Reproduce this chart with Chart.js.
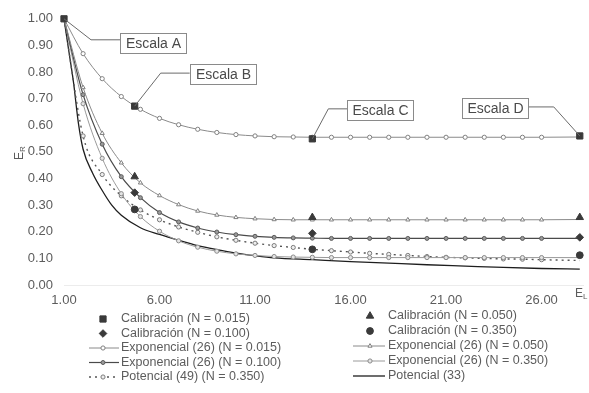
<!DOCTYPE html>
<html>
<head>
<meta charset="utf-8">
<script src="https://cdn.jsdelivr.net/npm/chart.js@4.4.1/dist/chart.umd.min.js"></script>
<style>
html, body { margin: 0; padding: 0; background: #fff; }
</style>
</head>
<body>
<canvas id="chart" width="589" height="393"></canvas>
<script>
// tick labels
var xTicks = [1, 6, 11, 16, 21, 26];
var yTicks = [0, 0.1, 0.2, 0.3, 0.4, 0.5, 0.6, 0.7, 0.8, 0.9, 1.0];

// calibration points
var calX015 = [1, 4.7, 14, 28];
var cal015 = [1.000, 0.672, 0.549, 0.560];
var calX = [4.7, 14, 28];
var cal050 = [0.407, 0.254, 0.254];
var cal100 = [0.347, 0.194, 0.179];
var cal350 = [0.284, 0.134, 0.112];

// fitted curves (markers at 1..26, line runs to 28)
var expX = [1, 2, 3, 4, 5, 6, 7, 8, 9, 10, 11, 12, 13, 14, 15, 16, 17, 18, 19, 20, 21, 22, 23, 24, 25, 26, 28];
var exp015 = [1.000, 0.869, 0.775, 0.708, 0.660, 0.626, 0.602, 0.585, 0.573, 0.565, 0.560, 0.557, 0.556, 0.555,
              0.555, 0.555, 0.555, 0.555, 0.555, 0.555, 0.555, 0.555, 0.555, 0.555, 0.555, 0.555, 0.556];
var exp050 = [1.000, 0.742, 0.570, 0.459, 0.384, 0.336, 0.302, 0.278, 0.263, 0.254, 0.249, 0.246, 0.245, 0.245,
              0.245, 0.245, 0.245, 0.245, 0.245, 0.245, 0.245, 0.245, 0.245, 0.245, 0.245, 0.245, 0.246];
var exp100 = [1.000, 0.715, 0.529, 0.407, 0.328, 0.272, 0.237, 0.214, 0.199, 0.189, 0.183, 0.179, 0.177, 0.176,
              0.175, 0.175, 0.175, 0.175, 0.175, 0.175, 0.175, 0.175, 0.175, 0.175, 0.175, 0.175, 0.175];
var exp350 = [1.000, 0.681, 0.476, 0.343, 0.257, 0.202, 0.166, 0.142, 0.127, 0.117, 0.111, 0.107, 0.105, 0.104,
              0.103, 0.103, 0.103, 0.103, 0.103, 0.103, 0.103, 0.103, 0.103, 0.103, 0.103, 0.103, 0.103];
var pot49 = [1.000, 0.560, 0.415, 0.335, 0.282, 0.245, 0.218, 0.198, 0.181, 0.168, 0.157, 0.148, 0.141, 0.134,
             0.129, 0.124, 0.119, 0.115, 0.111, 0.107, 0.104, 0.102, 0.100, 0.098, 0.097, 0.095, 0.092];
var pot33X = [1, 1.25, 1.5, 1.75, 2, 2.5, 3, 3.5, 4, 5, 6, 7, 8, 9, 10, 11, 12, 14, 16, 18, 20, 22, 24, 26, 28];
var pot33 = [1.000, 0.880, 0.760, 0.610, 0.510, 0.420, 0.355, 0.300, 0.262, 0.215, 0.190, 0.168, 0.148, 0.133,
             0.120, 0.110, 0.102, 0.095, 0.088, 0.082, 0.076, 0.071, 0.066, 0.062, 0.060];

var escalaLabels = ['Escala A', 'Escala B', 'Escala C', 'Escala D'];

function pts(xs, ys) {
    return xs.map(function (x, i) { return { x: x, y: ys[i] }; });
}
function markerUpTo26(r) {
    return function (c) { return c.raw && c.raw.x > 26 ? 0 : r; };
}

var FONT = '"Liberation Sans", Arial, sans-serif';
var TEXT = '#5c5c5c';
var calColor = '#3a3a3a';

var datasets = [
    { label: 'Calibración (N = 0.015)', data: pts(calX015, cal015), showLine: false, pointStyle: 'rect',
      pointRadius: 4.4, backgroundColor: calColor, borderColor: calColor, borderWidth: 1, order: 0 },
    { label: 'Calibración (N = 0.050)', data: pts(calX, cal050), showLine: false, pointStyle: 'triangle',
      pointRadius: 4.3, backgroundColor: calColor, borderColor: calColor, borderWidth: 1, order: 0 },
    { label: 'Calibración (N = 0.100)', data: pts(calX, cal100), showLine: false, pointStyle: 'rectRot',
      pointRadius: 3.8, backgroundColor: calColor, borderColor: calColor, borderWidth: 1, order: 0 },
    { label: 'Calibración (N = 0.350)', data: pts(calX, cal350), showLine: false, pointStyle: 'circle',
      pointRadius: 3.4, backgroundColor: calColor, borderColor: calColor, borderWidth: 1, order: 0 },
    { label: 'Exponencial (26) (N = 0.015)', data: pts(expX, exp015), borderColor: '#8a8a8a', borderWidth: 1,
      pointStyle: 'circle', pointRadius: markerUpTo26(2.1), pointBackgroundColor: '#fff',
      pointBorderColor: '#808080', pointBorderWidth: 1, order: 2 },
    { label: 'Exponencial (26) (N = 0.050)', data: pts(expX, exp050), borderColor: '#8a8a8a', borderWidth: 1,
      pointStyle: 'triangle', pointRadius: markerUpTo26(2.4), pointBackgroundColor: '#fff',
      pointBorderColor: '#808080', pointBorderWidth: 1, order: 2 },
    { label: 'Exponencial (26) (N = 0.100)', data: pts(expX, exp100), borderColor: '#4a4a4a', borderWidth: 1.2,
      pointStyle: 'circle', pointRadius: markerUpTo26(2.0), pointBackgroundColor: '#9a9a9a',
      pointBorderColor: '#5a5a5a', pointBorderWidth: 1, order: 2 },
    { label: 'Exponencial (26) (N = 0.350)', data: pts(expX, exp350), borderColor: '#9a9a9a', borderWidth: 1,
      pointStyle: 'circle', pointRadius: markerUpTo26(2.1), pointBackgroundColor: '#e4e4e4',
      pointBorderColor: '#8a8a8a', pointBorderWidth: 1, order: 2 },
    { label: 'Potencial (49) (N = 0.350)', data: pts(expX, pot49), borderColor: '#555', borderWidth: 1.4,
      borderDash: [2, 4], pointStyle: 'circle', pointRadius: markerUpTo26(2.1), pointBackgroundColor: '#eee',
      pointBorderColor: '#7a7a7a', pointBorderWidth: 1, order: 3 },
    { label: 'Potencial (33)', data: pts(pot33X, pot33), borderColor: '#1e1e1e', borderWidth: 1.3,
      pointRadius: 0, order: 4 }
];
datasets.forEach(function (d) {
    d.clip = false;
    d.cubicInterpolationMode = 'monotone';
});

// legend layout: [dataset index, column, row]
var legendItems = [[0, 0, 0], [2, 0, 1], [4, 0, 2], [6, 0, 3], [8, 0, 4],
                   [1, 1, 0], [3, 1, 1], [5, 1, 2], [7, 1, 3], [9, 1, 4]];
var legendCols = [
    { mark: 103, l0: 89, l1: 119, text: 121, rows: [319, 333.5, 348, 362.5, 377] },
    { mark: 370, l0: 353, l1: 385, text: 388, rows: [316, 331, 346, 361, 376] }
];

var extras = {
    id: 'extras',
    afterDraw: function (chart) {
        var ctx = chart.ctx;
        var xs = chart.scales.x, ys = chart.scales.y;
        ctx.save();

        // Escala callouts on the N = 0.015 calibration points
        var callouts = [
            { elbow: [27, 21], end: [56, 21], box: [56, 14] },
            { elbow: [26, -33], end: [55, -33], box: [55, -42] },
            { elbow: [16, -30], end: [35, -30], box: [35, -39] },
            { elbow: [-26, -29], end: [-52, -29], box: [-118, -38] }
        ];
        ctx.font = '14px ' + FONT;
        ctx.textAlign = 'center';
        ctx.textBaseline = 'middle';
        callouts.forEach(function (c, i) {
            var ax = xs.getPixelForValue(calX015[i]);
            var ay = ys.getPixelForValue(cal015[i]);
            ctx.strokeStyle = '#6a6a6a';
            ctx.lineWidth = 1;
            ctx.beginPath();
            ctx.moveTo(ax, ay);
            ctx.lineTo(ax + c.elbow[0], ay + c.elbow[1]);
            ctx.lineTo(ax + c.end[0], ay + c.end[1]);
            ctx.stroke();
            var bx = Math.round(ax + c.box[0]) + 0.5, by = Math.round(ay + c.box[1]) + 0.5;
            ctx.fillStyle = '#fff';
            ctx.fillRect(bx, by, 66, 20);
            ctx.strokeStyle = '#8a8a8a';
            ctx.strokeRect(bx, by, 66, 20);
            ctx.fillStyle = '#4a4a4a';
            ctx.fillText(escalaLabels[i], bx + 33, by + 10.5);
        });

        // axis titles with subscripts
        ctx.fillStyle = TEXT;
        ctx.textAlign = 'left';
        ctx.textBaseline = 'alphabetic';
        ctx.save();
        ctx.translate(23, 160);
        ctx.rotate(-Math.PI / 2);
        ctx.font = '12px ' + FONT;
        ctx.fillText('E', 0, 0);
        ctx.font = '8px ' + FONT;
        ctx.fillText('R', 8, 2);
        ctx.restore();
        ctx.font = '12px ' + FONT;
        ctx.fillText('E', 575, 297);
        ctx.font = '8px ' + FONT;
        ctx.fillText('L', 583, 299);

        // two-column legend
        legendItems.forEach(function (it) {
            var d = chart.data.datasets[it[0]];
            var col = legendCols[it[1]];
            var y = col.rows[it[2]];
            if (d.showLine !== false) {
                ctx.strokeStyle = d.borderColor;
                ctx.lineWidth = d.borderWidth;
                ctx.setLineDash(d.borderDash || []);
                ctx.beginPath();
                ctx.moveTo(col.l0, y);
                ctx.lineTo(col.l1, y);
                ctx.stroke();
                ctx.setLineDash([]);
            }
            var r = typeof d.pointRadius === 'function' ? d.pointRadius({ raw: { x: 1 } }) : d.pointRadius;
            if (r > 0) {
                ctx.fillStyle = d.pointBackgroundColor || d.backgroundColor;
                ctx.strokeStyle = d.pointBorderColor || d.borderColor;
                ctx.lineWidth = d.pointBorderWidth || d.borderWidth || 1;
                Chart.helpers.drawPoint(ctx, { pointStyle: d.pointStyle, radius: r, rotation: 0,
                    borderWidth: ctx.lineWidth }, col.mark, y);
            }
            ctx.fillStyle = TEXT;
            ctx.font = '12.5px ' + FONT;
            ctx.textBaseline = 'middle';
            ctx.fillText(d.label, col.text, y);
        });
        ctx.restore();
    }
};

var ctx = document.getElementById('chart').getContext('2d');
var chart = new Chart(ctx, {
    type: 'line',
    data: { datasets: datasets },
    options: {
        responsive: false,
        animation: false,
        layout: { padding: { top: 17, right: 4, left: 0, bottom: 0 } },
        plugins: { legend: { display: false }, tooltip: { enabled: false } },
        scales: {
            x: {
                type: 'linear', min: 1, max: 28.2,
                grid: { display: false, drawTicks: false },
                border: { display: true, color: '#ececec' },
                afterBuildTicks: function (s) { s.ticks = xTicks.map(function (v) { return { value: v }; }); },
                afterFit: function (s) { s.height = 108; },
                ticks: { padding: 8, color: TEXT, font: { size: 13, family: FONT }, maxRotation: 0,
                         autoSkip: false, callback: function (v) { return Number(v).toFixed(2); } }
            },
            y: {
                min: 0, max: 1,
                grid: { display: false, drawTicks: false },
                border: { display: false },
                afterBuildTicks: function (s) { s.ticks = yTicks.map(function (v) { return { value: v }; }); },
                afterFit: function (s) { s.width = 64; },
                ticks: { padding: 11, color: TEXT, font: { size: 13, family: FONT },
                         callback: function (v) { return Number(v).toFixed(2); } }
            }
        }
    },
    plugins: [extras]
});
</script>
</body>
</html>
